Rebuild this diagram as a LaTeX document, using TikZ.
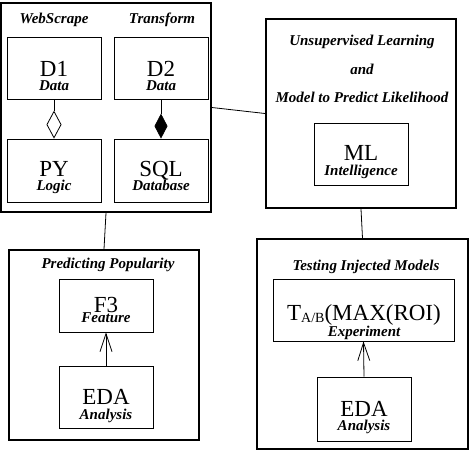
\documentclass[tikz,border=0pt]{standalone}
\usepackage{fontspec}
\setmainfont{Liberation Serif}
\usetikzlibrary{arrows.meta}
\tikzset{
  outerbox/.style={draw, line width=1.8pt, inner sep=0pt, rectangle},
  inbox/.style={draw, line width=0.8pt, inner sep=0pt, rectangle, minimum width=94pt},
  bigtxt/.style={anchor=base, inner sep=0pt, font=\fontsize{23}{23}\selectfont},
  subtxt/.style={anchor=base, inner sep=0pt, font=\fontsize{15}{15}\selectfont\bfseries\itshape},
  lbl/.style={anchor=base, inner sep=0pt, font=\fontsize{15}{15}\selectfont\bfseries\itshape},
  conn/.style={line width=0.8pt},
  barb/.style={line width=0.8pt, -{Straight Barb[length=18pt,width=12pt,line width=0.8pt]}},
}
\begin{document}
\begin{tikzpicture}[x=1pt,y=-1pt]
\useasboundingbox (0,0) rectangle (469,451);
% top-left group
\node[outerbox, minimum width=210pt, minimum height=209pt] (box1) at (106,107.5) {};
\node[lbl] (wslbl) at (54,23) {WebScrape};
\node[lbl] (trlbl) at (162,23) {Transform};
\node[inbox, minimum height=62pt] (d1) at (54,68) {};
\node[inbox, minimum height=62pt] (d2) at (161,68) {};
\node[inbox, minimum height=63pt] (py) at (54,170.5) {};
\node[inbox, minimum height=63pt] (sql) at (161,170.5) {};
\node[bigtxt] (d1t) at (54,76) {D1};
\node[subtxt] (d1s) at (54,90.5) {Data};
\node[bigtxt] (d2t) at (161,76) {D2};
\node[subtxt] (d2s) at (161,90.5) {Data};
\node[bigtxt] (pyt) at (54,176.5) {PY};
\node[subtxt] (pys) at (54,190.5) {Logic};
\node[bigtxt] (sqlt) at (161,176.5) {SQL};
\node[subtxt] (sqls) at (161,190.5) {Database};
\draw[conn, -{Diamond[open,length=28pt,width=15pt,line width=0.8pt]}] (d1.south) -- (py.north);
\draw[conn, -{Diamond[length=25pt,width=13pt]}] (d2.south) -- (sql.north);
% ML group
\node[outerbox, minimum width=190pt, minimum height=189pt] (mlbox) at (361,113.5) {};
\node[lbl] (ul1) at (362,45) {Unsupervised Learning};
\node[lbl] (ul2) at (362,74) {and};
\node[lbl] (ul3) at (362,102) {Model to Predict Likelihood};
\node[inbox, minimum height=62pt] (ml) at (361,154) {};
\node[bigtxt] (mlt) at (361,160) {ML};
\node[subtxt] (mls) at (361,175.5) {Intelligence};
% Predicting popularity group
\node[outerbox, minimum width=190pt, minimum height=190pt] (box3) at (104,345) {};
\node[lbl] (pplbl) at (108,268) {Predicting Popularity};
\node[inbox, minimum height=53pt] (f3) at (106,305.5) {};
\node[bigtxt] (f3t) at (106,312.5) {F3};
\node[subtxt] (f3s) at (106,322.5) {Feature};
\node[inbox, minimum height=62pt] (eda1) at (106,397) {};
\node[bigtxt] (eda1t) at (106,404.5) {EDA};
\node[subtxt] (eda1s) at (106,419) {Analysis};
\draw[barb] (eda1.north) -- (f3.south);
% Testing group
\node[outerbox, minimum width=211pt, minimum height=210pt] (box4) at (362.5,344) {};
\node[lbl] (tilbl) at (366,270) {Testing Injected Models};
\node[inbox, minimum width=181pt, minimum height=62pt] (tb) at (363.5,310) {};
\node[bigtxt] (tbt) at (364,320) {T\raisebox{-2pt}{\fontsize{14}{14}\selectfont A/B}(MAX(ROI)};
\node[subtxt] (tbs) at (364,336) {Experiment};
\node[inbox, minimum height=64pt] (eda2) at (364,409) {};
\node[bigtxt] (eda2t) at (364,416.5) {EDA};
\node[subtxt] (eda2s) at (364,430.5) {Analysis};
\draw[barb] (eda2.north) -- (tb.south);
% connectors between groups
\draw[conn] (box1.east) -- (mlbox.west);
\draw[conn] (box1.south) -- (box3.north);
\draw[conn] (mlbox.south) -- (box4.north);
\end{tikzpicture}
\end{document}
